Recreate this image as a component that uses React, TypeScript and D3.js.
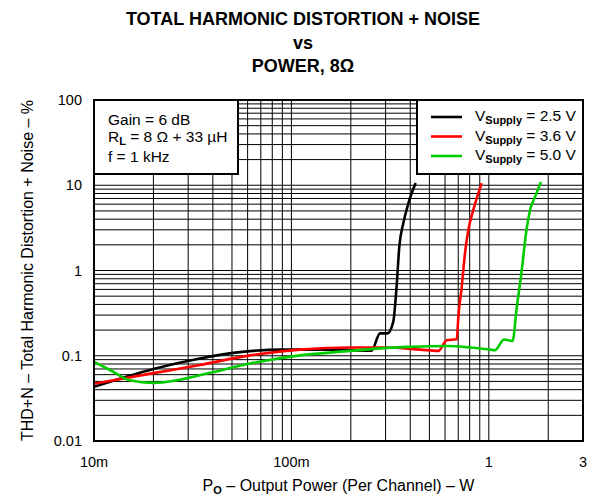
import React from "react";
import * as d3 from "d3";

const xTickValues = [0.01, 0.1, 1, 3];
const xTickLabels = ["10m", "100m", "1", "3"];
const yTickValues = [0.01, 0.1, 1, 10, 100];
const yTickLabels = ["0.01", "0.1", "1", "10", "100"];

const series25: [number, number][] = [
  [0.01, 0.0432], [0.02, 0.07], [0.0344, 0.093], [0.0506, 0.108], [0.0906, 0.118],
  [0.1625, 0.118], [0.255, 0.115], [0.281, 0.183], [0.306, 0.183], [0.328, 0.25],
  [0.341, 0.64], [0.352, 1.9], [0.369, 3.6], [0.391, 6.1], [0.426, 10.6],
];
const series36: [number, number][] = [
  [0.01, 0.047], [0.02, 0.0625], [0.0344, 0.078], [0.0617, 0.101], [0.1105, 0.118],
  [0.198, 0.125], [0.3, 0.125], [0.45, 0.118], [0.555, 0.114], [0.612, 0.152],
  [0.688, 0.156], [0.701, 0.286], [0.729, 0.642], [0.757, 1.58], [0.787, 2.97],
  [0.834, 5.1], [0.92, 10.6],
];
const series50: [number, number][] = [
  [0.01, 0.0847], [0.01205, 0.068], [0.0152, 0.0515], [0.02, 0.048], [0.0262, 0.0515],
  [0.0387, 0.063], [0.0617, 0.081], [0.1105, 0.101], [0.198, 0.114], [0.281, 0.122],
  [0.4, 0.127], [0.612, 0.13], [1.014, 0.118], [1.074, 0.116], [1.194, 0.155],
  [1.32, 0.149], [1.38, 0.342], [1.468, 1.0], [1.543, 2.71], [1.617, 5.1],
  [1.714, 7.3], [1.838, 10.9],
];
const seriesNames = ["2.5 V", "3.6 V", "5.0 V"];
const seriesColors = ["#000000", "#ff0000", "#00cc00"];
const titleLines = ["TOTAL HARMONIC DISTORTION + NOISE", "vs", "POWER, 8\u03A9"];

const FONT = "'Liberation Sans', Arial, Helvetica, sans-serif";

export default function App() {
  const W = 603, H = 497;
  const left = 94, right = 583, top = 100, bottom = 441;
  const x = d3.scaleLog().domain([0.01, 3]).range([left, right]);
  const y = d3.scaleLog().domain([0.01, 100]).range([bottom, top]);

  const xGrid: number[] = [];
  for (let e = -2; e <= 0; e++) {
    for (let m = 1; m <= 9; m++) {
      const v = m * Math.pow(10, e);
      if (v > 0.01 && v < 3) xGrid.push(v);
    }
  }
  const yGrid: number[] = [];
  for (let e = -2; e <= 1; e++) {
    for (let m = 1; m <= 9; m++) {
      const v = m * Math.pow(10, e);
      if (v > 0.01 && v < 100) yGrid.push(v);
    }
  }

  const line = d3
    .line<[number, number]>()
    .x((d) => x(d[0]))
    .y((d) => y(d[1]))
    .curve(d3.curveMonotoneX);

  const allSeries = [series25, series36, series50];

  return (
    <svg
      width={W}
      height={H}
      style={{ position: "absolute", left: 0, top: 0, background: "#fff" }}
      fontFamily={FONT}
    >
      <rect x={0} y={0} width={W} height={H} fill="#fff" />
      {titleLines.map((t, i) => (
        <text key={i} x={303} y={25 + i * 23.5} textAnchor="middle" fontWeight="bold" fontSize={18}>
          {t}
        </text>
      ))}

      {/* grid */}
      {xGrid.map((v, i) => (
        <line key={"xg" + i} x1={x(v)} x2={x(v)} y1={top} y2={bottom} stroke="#000" strokeWidth={1} />
      ))}
      {yGrid.map((v, i) => (
        <line key={"yg" + i} x1={left} x2={right} y1={y(v)} y2={y(v)} stroke="#000" strokeWidth={1} />
      ))}

      {/* series */}
      {allSeries.map((s, i) => (
        <path key={"s" + i} d={line(s) || ""} fill="none" stroke={seriesColors[i]} strokeWidth={2.6} strokeLinejoin="round" />
      ))}

      {/* frame */}
      <rect x={left} y={top} width={right - left} height={bottom - top} fill="none" stroke="#000" strokeWidth={2} />

      {/* annotation box */}
      <rect x={left} y={top} width={144} height={74} fill="#fff" stroke="#000" strokeWidth={2} />
      <text x={108} y={125} fontSize={15.5}>Gain = 6 dB</text>
      <text x={108} y={142} fontSize={15.5}>
        R<tspan fontSize={11} fontWeight="bold" dy={3}>L</tspan>
        <tspan dy={-3}> = 8 {"\u03A9"} + 33 {"\u00B5"}H</tspan>
      </text>
      <text x={108} y={162} fontSize={15.5}>f = 1 kHz</text>

      {/* legend */}
      <rect x={417} y={top} width={right - 417} height={74} fill="#fff" stroke="#000" strokeWidth={2} />
      {seriesNames.map((n, i) => (
        <g key={"lg" + i}>
          <line x1={431} x2={462} y1={117 + i * 19.5} y2={117 + i * 19.5} stroke={seriesColors[i]} strokeWidth={2.6} />
          <text x={475} y={121 + i * 19.5} fontSize={15.5}>
            V<tspan fontSize={11} fontWeight="bold" dy={3}>Supply</tspan>
            <tspan dy={-3}> = {n}</tspan>
          </text>
        </g>
      ))}

      {/* y tick labels */}
      {yTickValues.map((v, i) => (
        <text key={"yt" + i} x={82} y={y(v) + 5} textAnchor="end" fontSize={14.5}>
          {yTickLabels[i]}
        </text>
      ))}
      {/* x tick labels */}
      {xTickValues.map((v, i) => (
        <text key={"xt" + i} x={x(v)} y={467} textAnchor="middle" fontSize={14.5}>
          {xTickLabels[i]}
        </text>
      ))}

      {/* axis titles */}
      <text x={(left + right) / 2} y={491} textAnchor="middle" fontSize={16}>
        P<tspan fontSize={11} fontWeight="bold" dy={3}>O</tspan>
        <tspan dy={-3}> {"\u2013"} Output Power (Per Channel) {"\u2013"} W</tspan>
      </text>
      <text
        transform={`translate(33, ${(top + bottom) / 2}) rotate(-90)`}
        textAnchor="middle"
        fontSize={16}
      >
        THD+N {"\u2013"} Total Harmonic Distortion + Noise {"\u2013"} %
      </text>
    </svg>
  );
}
